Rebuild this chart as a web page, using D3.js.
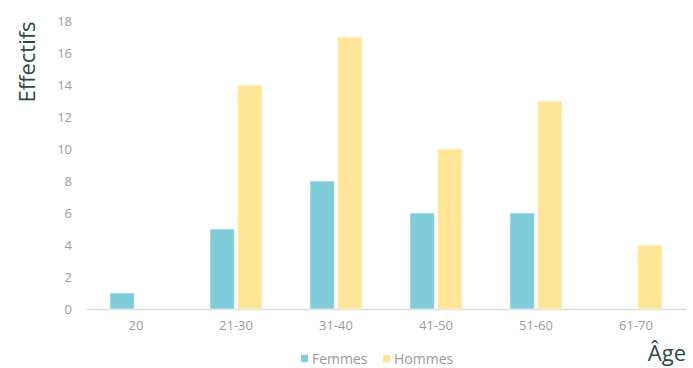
<!DOCTYPE html>
<html><head><meta charset="utf-8">
<script src="https://cdn.jsdelivr.net/npm/d3@7"></script>
<style>
html,body{margin:0;padding:0;background:#fff;}
svg text{font-family:"Open Sans","Lato",sans-serif;}
</style></head>
<body><svg id="c" width="693" height="368"></svg>
<script>
const categories = ["20","21-30","31-40","41-50","51-60","61-70"];
const femmes = [1,5,8,6,6,0];
const hommes = [0,14,17,10,13,4];
const yTicks = [0,2,4,6,8,10,12,14,16,18];
const seriesNames = ["Femmes","Hommes"];
const colors = ["#80CCDB","#FFE597"];

const svg = d3.select("#c");
const x = d3.scaleBand().domain(categories).range([86,686]);
const y = d3.scaleLinear().domain([0,18]).range([309,21]);
const xs = d3.scaleBand().domain(seriesNames).range([24,76]).paddingInner(0.12);

// y tick labels
const yAxis = d3.axisLeft(y).tickValues(yTicks).tickSize(0).tickPadding(0);
const gy = svg.append("g").attr("transform","translate(72,0)").call(yAxis);
gy.select(".domain").remove();
gy.selectAll("text").attr("fill","#9a9a9a").style("font-size","13px").style("font-family","Open Sans").attr("dy","0.35em");

// x axis
const xAxis = d3.axisBottom(x).tickSize(0).tickPadding(12);
const gx = svg.append("g").attr("transform","translate(0,309)").call(xAxis);
gx.select(".domain").attr("stroke","#dcdcdc").attr("stroke-width",1.5);
gx.selectAll("text").attr("fill","#9a9a9a").style("font-size","13px").style("font-family","Open Sans");

const data = [femmes, hommes];
data.forEach((vals, si) => {
  const items = vals.map((v,i) => ({cat: categories[i], v})).filter(d => d.v > 0);
  svg.append("g").selectAll("rect").data(items).join("rect")
    .attr("x", d => x(d.cat) + xs(seriesNames[si]))
    .attr("y", d => y(d.v))
    .attr("width", xs.bandwidth())
    .attr("height", d => y(0) - y(d.v))
    .attr("fill", colors[si])
    .attr("stroke", "rgba(255,255,255,0.5)")
    .attr("stroke-width", 1);
});

// axis titles
svg.append("text").attr("transform","translate(35,62) rotate(-90)")
  .attr("text-anchor","middle").attr("fill","#2a4a45").style("font-size","22px").text("Effectifs");
svg.append("text").attr("x",686).attr("y",361).attr("text-anchor","end")
  .attr("fill","#2a4a45").style("font-size","22px").text("Âge");

// legend
const legX = [301, 383];
seriesNames.forEach((n,i) => {
  svg.append("rect").attr("x",legX[i]).attr("y",355).attr("width",7).attr("height",7).attr("fill",colors[i]);
  svg.append("text").attr("x",legX[i]+11).attr("y",359).attr("dy","0.35em")
    .attr("fill","#9a9a9a").style("font-size","14px").text(n);
});
</script></body></html>
